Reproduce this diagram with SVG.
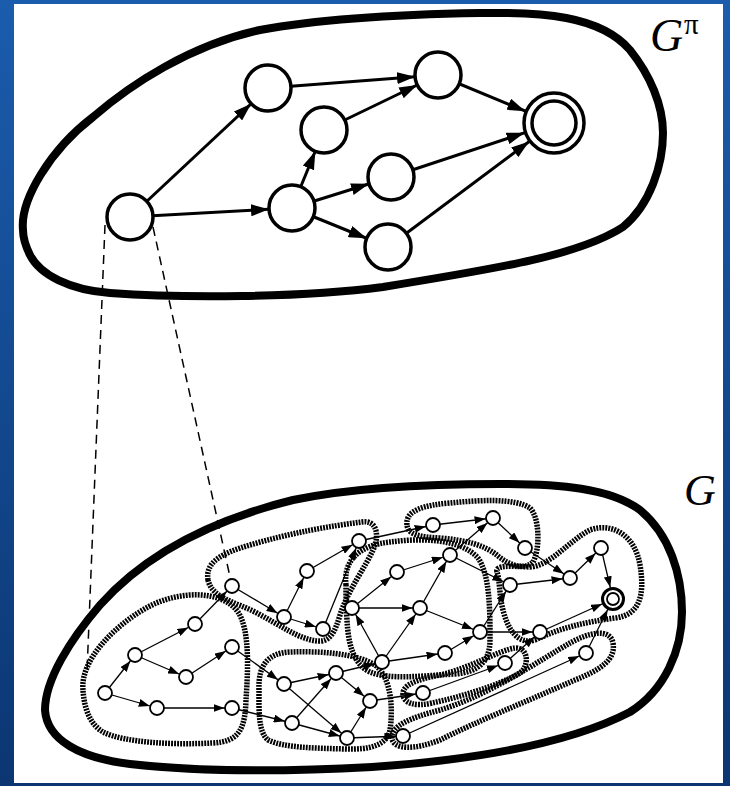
<svg xmlns="http://www.w3.org/2000/svg" width="730" height="786" viewBox="0 0 730 786">
<defs>
<linearGradient id="bg" x1="0" y1="0" x2="0" y2="1">
<stop offset="0" stop-color="#1b5cad"/>
<stop offset="1" stop-color="#0b3672"/>
</linearGradient>
<marker id="ab" markerUnits="userSpaceOnUse" markerWidth="18" markerHeight="12" refX="41" refY="6" orient="auto"><path d="M0,0 L18,6 L0,12 Z" fill="#000"/></marker>
<marker id="abT" markerUnits="userSpaceOnUse" markerWidth="18" markerHeight="12" refX="49" refY="6" orient="auto"><path d="M0,0 L18,6 L0,12 Z" fill="#000"/></marker>
<marker id="as" markerUnits="userSpaceOnUse" markerWidth="11" markerHeight="8" refX="18.5" refY="4" orient="auto"><path d="M0,0 L11,4 L0,8 Z" fill="#000"/></marker>
<marker id="asT" markerUnits="userSpaceOnUse" markerWidth="11" markerHeight="8" refX="23" refY="4" orient="auto"><path d="M0,0 L11,4 L0,8 Z" fill="#000"/></marker>
</defs>
<style>
.blob{fill:none;stroke:#000;stroke-width:8;stroke-linejoin:round}
.bn{fill:#fff;stroke:#000;stroke-width:3.5}
.be{stroke:#000;stroke-width:3;fill:none;marker-end:url(#ab)}
.beT{stroke:#000;stroke-width:3;fill:none;marker-end:url(#abT)}
.sn{fill:#fff;stroke:#000;stroke-width:1.8}
.se{stroke:#000;stroke-width:1.3;fill:none;marker-end:url(#as)}
.seT{stroke:#000;stroke-width:1.3;fill:none;marker-end:url(#asT)}
.clu{fill:none;stroke:#000;stroke-width:5.5;stroke-dasharray:1.9 1.1}
.dash{fill:none;stroke:#000;stroke-width:1.5;stroke-dasharray:9 6}
.lbl{font-family:"Liberation Serif","DejaVu Serif",serif;fill:#000}
</style>
<rect x="0" y="0" width="730" height="786" fill="url(#bg)"/>
<rect x="14" y="4" width="709" height="779" fill="#fff"/>

<!-- outlines -->
<g id="blob-gpi">
<path class="blob" d="M23,230 C20,200 50,150 93,117 C130,85 190,45 260,30 C330,17 420,14 480,13 C540,12 600,15 630,50 C650,75 663,105 663,133 C663,165 650,205 623,227 C580,255 500,268 383,287 C300,298 180,298 110,293 C70,290 40,275 30,255 C25,245 23,238 23,230 Z"/>
</g>
<g id="blob-g">
<path class="blob" d="M45,710 C45,680 70,640 100,605 C140,560 200,523 293,500 C360,486 440,484 500,484 C560,484 610,488 640,510 C670,535 682,575 682,612 C682,650 665,690 630,712 C580,738 500,758 372,767 C280,772 200,772 130,764 C80,758 47,740 45,710 Z"/>
</g>

<!-- clusters -->
<g id="clusters">
<path id="c1" class="clu" d="M83,690 C80,660 115,625 148,607 C180,590 222,590 238,612 C250,630 248,670 246,700 C245,728 240,742 212,743 C175,745 125,743 103,732 C88,723 84,705 83,690 Z"/>
<path id="c2" class="clu" d="M208,580 C205,562 222,553 250,545 C290,533 330,526 362,522 C375,520 380,532 374,548 C365,568 348,590 340,615 C335,632 330,642 318,641 C300,640 280,625 255,612 C235,602 212,598 208,580 Z"/>
<path id="c3" class="clu" d="M346,585 C343,560 360,545 390,542 C420,538 460,538 478,558 C490,575 490,610 490,640 C490,662 478,672 455,674 C420,676 390,680 370,672 C352,664 348,640 347,620 C346,605 346,595 346,585 Z"/>
<path id="c4" class="clu" d="M407,525 C405,510 425,505 450,503 C480,500 515,498 530,508 C540,518 540,550 533,562 C525,570 510,566 498,556 C485,545 465,540 440,538 C420,537 408,535 407,525 Z"/>
<path id="c5" class="clu" d="M259,690 C258,665 268,653 290,652 C320,651 355,653 375,665 C392,678 393,710 390,730 C387,745 370,750 345,749 C315,748 285,748 268,740 C258,732 259,710 259,690 Z"/>
<path id="c6" class="clu" d="M403,695 C402,685 415,680 440,675 C470,668 500,650 515,648 C528,647 530,665 520,673 C500,685 460,697 432,703 C415,707 404,703 403,695 Z"/>
<path id="c7" class="clu" d="M392,738 C392,725 410,718 440,710 C490,695 540,660 570,643 C590,632 610,628 613,643 C616,660 600,670 575,680 C530,700 480,720 440,740 C415,750 393,750 392,738 Z"/>
<path id="c8" class="clu" d="M497,572 C495,565 510,566 530,567 C550,566 570,540 590,530 C612,522 635,535 640,565 C645,595 640,615 615,618 C585,622 560,628 535,640 C518,645 508,630 503,610 C499,595 500,580 497,572 Z"/>
</g>

<!-- connectors -->
<g id="connectors">
<line class="dash" x1="105" y1="225" x2="87" y2="672"/>
<line class="dash" x1="153" y1="227" x2="232" y2="586"/>
<line class="be" x1="130" y1="217" x2="268" y2="88"/>
<line class="be" x1="130" y1="217" x2="292" y2="208"/>
<line class="be" x1="268" y1="88" x2="438" y2="75"/>
<line class="be" x1="324" y1="130" x2="438" y2="75"/>
<line class="be" x1="292" y1="208" x2="324" y2="130"/>
<line class="be" x1="292" y1="208" x2="391" y2="177"/>
<line class="be" x1="292" y1="208" x2="388" y2="247"/>
<line class="beT" x1="438" y1="75" x2="554" y2="123"/>
<line class="beT" x1="391" y1="177" x2="554" y2="123"/>
<line class="beT" x1="388" y1="247" x2="554" y2="123"/>

<line class="se" x1="105" y1="693" x2="135" y2="655"/>
<line class="se" x1="105" y1="693" x2="157" y2="708"/>
<line class="se" x1="135" y1="655" x2="195" y2="624"/>
<line class="se" x1="135" y1="655" x2="186" y2="677"/>
<line class="se" x1="186" y1="677" x2="232" y2="647"/>
<line class="se" x1="157" y1="708" x2="232" y2="708"/>
<line class="se" x1="195" y1="624" x2="232" y2="586"/>
<line class="se" x1="232" y1="586" x2="284" y2="617"/>
<line class="se" x1="284" y1="617" x2="323" y2="629"/>
<line class="se" x1="284" y1="617" x2="307" y2="571"/>
<line class="se" x1="307" y1="571" x2="359" y2="541"/>
<line class="se" x1="323" y1="629" x2="359" y2="541"/>
<line class="se" x1="232" y1="647" x2="284" y2="684"/>
<line class="se" x1="232" y1="708" x2="292" y2="723"/>
<line class="se" x1="284" y1="684" x2="336" y2="673"/>
<line class="se" x1="284" y1="684" x2="347" y2="738"/>
<line class="se" x1="292" y1="723" x2="336" y2="673"/>
<line class="se" x1="336" y1="673" x2="370" y2="701"/>
<line class="se" x1="292" y1="723" x2="347" y2="738"/>
<line class="se" x1="347" y1="738" x2="370" y2="701"/>
<line class="se" x1="336" y1="673" x2="382" y2="662"/>
<line class="se" x1="382" y1="662" x2="352" y2="608"/>
<line class="se" x1="352" y1="608" x2="397" y2="572"/>
<line class="se" x1="347" y1="738" x2="403" y2="736"/>
<line class="se" x1="359" y1="541" x2="433" y2="525"/>
<line class="se" x1="433" y1="525" x2="493" y2="518"/>
<line class="se" x1="493" y1="518" x2="525" y2="548"/>
<line class="se" x1="450" y1="555" x2="493" y2="518"/>
<line class="se" x1="397" y1="572" x2="450" y2="555"/>
<line class="se" x1="352" y1="608" x2="420" y2="608"/>
<line class="se" x1="420" y1="608" x2="450" y2="555"/>
<line class="se" x1="450" y1="555" x2="510" y2="585"/>
<line class="se" x1="420" y1="608" x2="480" y2="632"/>
<line class="se" x1="382" y1="662" x2="420" y2="608"/>
<line class="se" x1="382" y1="662" x2="445" y2="653"/>
<line class="se" x1="445" y1="653" x2="480" y2="632"/>
<line class="se" x1="480" y1="632" x2="510" y2="585"/>
<line class="se" x1="480" y1="632" x2="540" y2="632"/>
<line class="se" x1="510" y1="585" x2="570" y2="578"/>
<line class="se" x1="570" y1="578" x2="601" y2="548"/>
<line class="se" x1="525" y1="548" x2="570" y2="578"/>
<line class="seT" x1="601" y1="548" x2="613" y2="599"/>
<line class="seT" x1="540" y1="632" x2="613" y2="599"/>
<line class="seT" x1="586" y1="653" x2="613" y2="599"/>
<line class="se" x1="505" y1="663" x2="540" y2="632"/>
<line class="se" x1="423" y1="693" x2="505" y2="663"/>
<line class="se" x1="370" y1="701" x2="423" y2="693"/>
<line class="se" x1="403" y1="736" x2="586" y2="653"/>
</g>

<!-- top graph nodes -->
<g id="gpi-l"><circle class="bn" cx="130" cy="217" r="23"/></g>
<g id="gpi-a"><circle class="bn" cx="268" cy="88" r="23"/></g>
<g id="gpi-b"><circle class="bn" cx="438" cy="75" r="23"/></g>
<g id="gpi-c"><circle class="bn" cx="324" cy="130" r="23"/></g>
<g id="gpi-d"><circle class="bn" cx="292" cy="208" r="23"/></g>
<g id="gpi-e"><circle class="bn" cx="391" cy="177" r="23"/></g>
<g id="gpi-f"><circle class="bn" cx="388" cy="247" r="23"/></g>
<g id="gpi-t"><circle cx="554" cy="123" r="30" fill="#fff" stroke="#000" stroke-width="3.5"/><circle class="bn" cx="554" cy="123" r="22"/></g>

<!-- bottom graph nodes -->
<g id="g-n1"><circle class="sn" cx="105" cy="693" r="7"/></g>
<g id="g-n2"><circle class="sn" cx="135" cy="655" r="7"/></g>
<g id="g-n3"><circle class="sn" cx="195" cy="624" r="7"/></g>
<g id="g-n4"><circle class="sn" cx="186" cy="677" r="7"/></g>
<g id="g-n5"><circle class="sn" cx="232" cy="647" r="7"/></g>
<g id="g-n6"><circle class="sn" cx="157" cy="708" r="7"/></g>
<g id="g-n7"><circle class="sn" cx="232" cy="708" r="7"/></g>
<g id="g-n8"><circle class="sn" cx="232" cy="586" r="7"/></g>
<g id="g-n9"><circle class="sn" cx="284" cy="617" r="7"/></g>
<g id="g-n10"><circle class="sn" cx="323" cy="629" r="7"/></g>
<g id="g-n11"><circle class="sn" cx="307" cy="571" r="7"/></g>
<g id="g-n12"><circle class="sn" cx="359" cy="541" r="7"/></g>
<g id="g-n13"><circle class="sn" cx="352" cy="608" r="7"/></g>
<g id="g-n14"><circle class="sn" cx="397" cy="572" r="7"/></g>
<g id="g-n15"><circle class="sn" cx="382" cy="662" r="7"/></g>
<g id="g-n16"><circle class="sn" cx="284" cy="684" r="7"/></g>
<g id="g-n17"><circle class="sn" cx="336" cy="673" r="7"/></g>
<g id="g-n18"><circle class="sn" cx="370" cy="701" r="7"/></g>
<g id="g-n19"><circle class="sn" cx="292" cy="723" r="7"/></g>
<g id="g-n20"><circle class="sn" cx="347" cy="738" r="7"/></g>
<g id="g-m2"><circle class="sn" cx="433" cy="525" r="7"/></g>
<g id="g-m3"><circle class="sn" cx="493" cy="518" r="7"/></g>
<g id="g-m4"><circle class="sn" cx="525" cy="548" r="7"/></g>
<g id="g-m5"><circle class="sn" cx="450" cy="555" r="7"/></g>
<g id="g-m8"><circle class="sn" cx="420" cy="608" r="7"/></g>
<g id="g-m9"><circle class="sn" cx="480" cy="632" r="7"/></g>
<g id="g-m11"><circle class="sn" cx="445" cy="653" r="7"/></g>
<g id="g-m12"><circle class="sn" cx="510" cy="585" r="7"/></g>
<g id="g-m13"><circle class="sn" cx="570" cy="578" r="7"/></g>
<g id="g-m14"><circle class="sn" cx="601" cy="548" r="7"/></g>
<g id="g-m16"><circle class="sn" cx="540" cy="632" r="7"/></g>
<g id="g-m17"><circle class="sn" cx="505" cy="663" r="7"/></g>
<g id="g-m18"><circle class="sn" cx="586" cy="653" r="7"/></g>
<g id="g-m19"><circle class="sn" cx="423" cy="693" r="7"/></g>
<g id="g-m22"><circle class="sn" cx="403" cy="736" r="7"/></g>
<g id="g-t"><circle cx="613" cy="599" r="10.5" fill="#fff" stroke="#000" stroke-width="3"/><circle class="sn" cx="613" cy="599" r="6" stroke-width="1.5"/></g>

<!-- labels -->
<g id="label-gpi"><text class="lbl" x="650" y="51" font-size="46" font-style="italic">G</text><text class="lbl" x="684" y="34" font-size="29">π</text></g>
<g id="label-g"><text class="lbl" x="684" y="505" font-size="44" font-style="italic">G</text></g>
</svg>
